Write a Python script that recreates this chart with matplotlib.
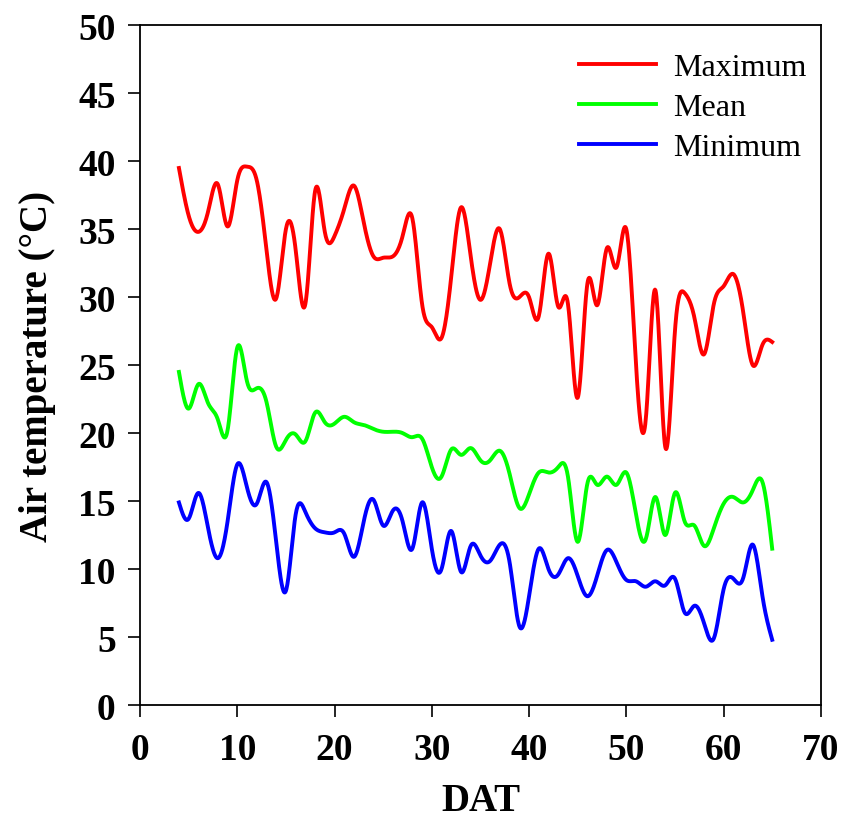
import numpy as np
import matplotlib
matplotlib.use('Agg')
import matplotlib.pyplot as plt

# days after transplanting
dat = np.arange(4, 66)

t_max = [39.5, 36.0, 34.8, 36.3, 38.3, 35.2, 38.6, 39.6, 38.6, 33.5,
         29.9, 35.0, 33.5, 29.5, 37.8, 34.8, 34.5, 36.5, 38.2, 35.5,
         33.0, 32.9, 33.0, 34.5, 35.8, 29.5, 27.8, 27.0, 31.5, 36.6,
         33.0, 29.8, 32.5, 35.0, 31.0, 30.0, 30.0, 28.6, 33.2, 29.3,
         29.5, 22.6, 31.0, 29.4, 33.6, 32.2, 35.0, 25.0, 21.0, 30.5,
         19.0, 27.5, 30.3, 28.5, 25.8, 29.5, 30.8, 31.7, 29.0, 25.0,
         26.5, 26.7]

t_mean = [24.5, 21.8, 23.6, 22.2, 21.0, 20.2, 26.3, 23.8, 23.3, 22.3,
          19.0, 19.5, 19.9, 19.4, 21.5, 20.8, 20.7, 21.2, 20.8, 20.6,
          20.3, 20.1, 20.1, 20.0, 19.7, 19.6, 17.5, 16.8, 18.8, 18.4,
          18.9, 18.0, 18.0, 18.7, 17.0, 14.5, 15.5, 17.1, 17.1, 17.5,
          16.8, 12.0, 16.3, 16.2, 16.8, 16.2, 17.1, 14.0, 12.2, 15.3,
          12.5, 15.6, 13.5, 13.2, 11.7, 13.0, 14.8, 15.3, 14.9, 15.8,
          16.4, 11.5]

t_min = [14.9, 13.7, 15.6, 13.0, 10.8, 13.5, 17.7, 16.0, 14.8, 16.4,
         12.0, 8.4, 14.0, 14.2, 13.0, 12.7, 12.7, 12.6, 10.9, 13.5,
         15.1, 13.2, 14.3, 13.5, 11.5, 14.9, 11.5, 10.0, 12.8, 9.8,
         11.7, 11.0, 10.6, 11.8, 10.5, 5.8, 8.0, 11.5, 10.0, 9.6,
         10.8, 9.5, 8.0, 9.5, 11.4, 10.5, 9.2, 9.1, 8.7, 9.1,
         8.8, 9.3, 6.8, 7.3, 6.0, 4.9, 8.5, 9.3, 9.3, 11.8,
         8.0, 4.8]

labels = ['Maximum', 'Mean', 'Minimum']
colors = ['#ff0000', '#00ff00', '#0000ff']


def spline(x, y, n=20):
    # natural cubic spline, only for drawing a smooth curve through the points
    x = np.asarray(x, float)
    y = np.asarray(y, float)
    h = np.diff(x)
    m = len(x)
    A = np.zeros((m, m))
    b = np.zeros(m)
    A[0, 0] = A[-1, -1] = 1
    for i in range(1, m - 1):
        A[i, i - 1] = h[i - 1]
        A[i, i] = 2 * (h[i - 1] + h[i])
        A[i, i + 1] = h[i]
        b[i] = 6 * ((y[i + 1] - y[i]) / h[i] - (y[i] - y[i - 1]) / h[i - 1])
    M = np.linalg.solve(A, b)
    xs = np.linspace(x[0], x[-1], (m - 1) * n + 1)
    k = np.clip(np.searchsorted(x, xs) - 1, 0, m - 2)
    a = x[k + 1] - xs
    c = xs - x[k]
    hk = h[k]
    ys = (M[k] * a**3 + M[k + 1] * c**3) / (6 * hk) \
        + (y[k] / hk - M[k] * hk / 6) * a + (y[k + 1] / hk - M[k + 1] * hk / 6) * c
    return xs, ys


plt.rcParams['font.family'] = ['Liberation Serif', 'DejaVu Serif']

fig = plt.figure(figsize=(8.41, 8.20), dpi=100)
ax = fig.add_axes([0.1665, 0.139, 0.8095, 0.829])

for serie, lab, cor in zip([t_max, t_mean, t_min], labels, colors):
    xs, ys = spline(dat, serie)
    ax.plot(xs, ys, color=cor, lw=2.8, label=lab)

ax.set_xlim(0, 70)
ax.set_ylim(0, 50)
ax.set_xticks(range(0, 71, 10))
ax.set_yticks(range(0, 51, 5))
ax.tick_params(direction='out', length=8.5, width=1.2, labelsize=27)
ax.tick_params(axis='x', pad=11)
ax.tick_params(axis='y', pad=9)
for lbl in ax.get_xticklabels() + ax.get_yticklabels():
    lbl.set_fontweight('bold')
for s in ax.spines.values():
    s.set_linewidth(1.3)

ax.set_xlabel('DAT', fontsize=28, fontweight='bold', labelpad=11)
ax.set_ylabel('Air temperature (°C)', fontsize=28, fontweight='bold', labelpad=16)

ax.legend(loc='upper right', bbox_to_anchor=(0.998, 0.978), frameon=False,
          fontsize=23, handlelength=2.4, handletextpad=0.55, labelspacing=0.33,
          borderaxespad=0)

fig.savefig('out.png', dpi=100)
